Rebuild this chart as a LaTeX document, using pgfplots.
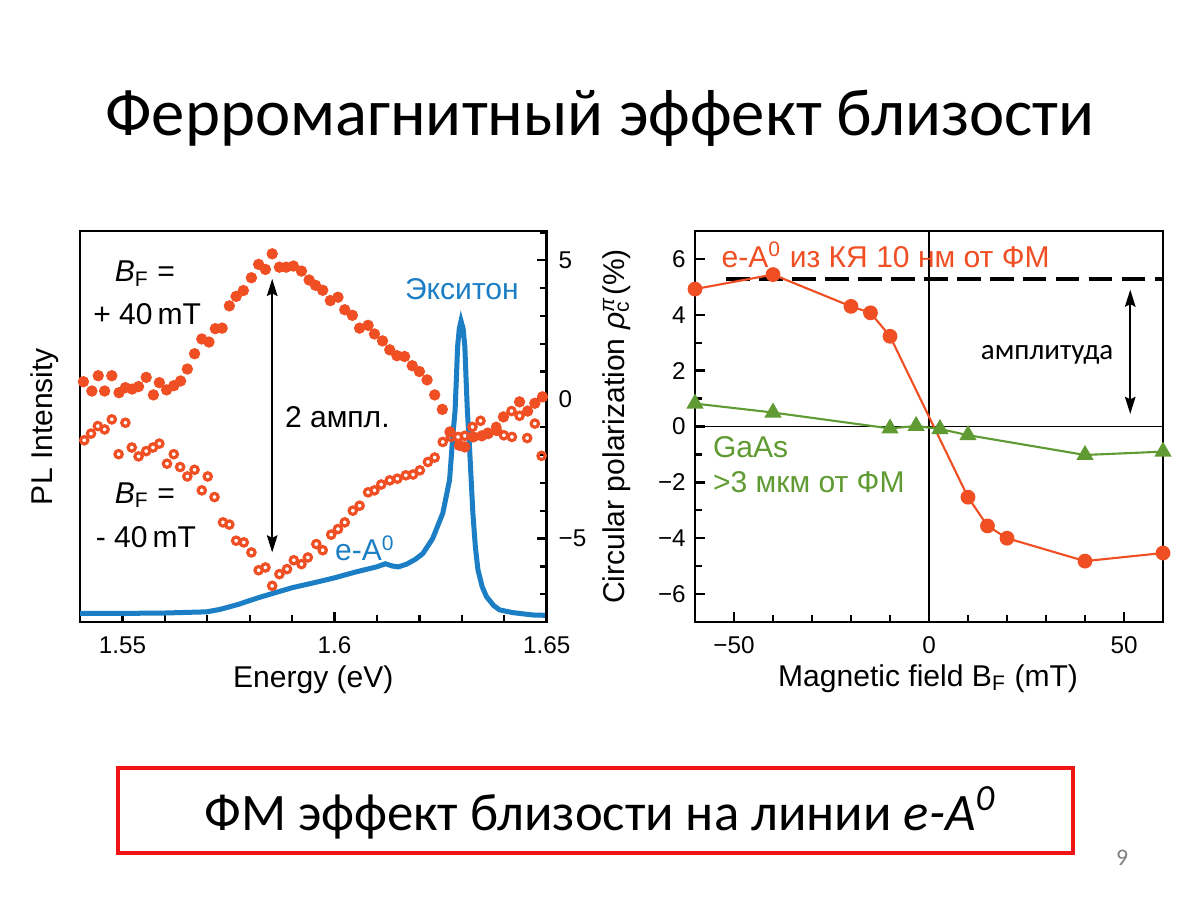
\documentclass[border=0pt]{standalone}
\usepackage{fontspec}
\setmainfont{Liberation Sans}
\newfontfamily\carlito{Carlito}
\usepackage{pgfplots}
\pgfplotsset{compat=1.18}
\usetikzlibrary{arrows.meta}
\definecolor{myred}{RGB}{240,78,35}
\definecolor{myblue}{RGB}{28,126,196}
\definecolor{mygreen}{RGB}{95,155,50}
\definecolor{boxred}{RGB}{240,20,20}

\pgfplotstableread{
E I
1.5399 0.022
1.5500 0.022
1.5600 0.023
1.5698 0.026
1.5729 0.032
1.5753 0.039
1.5776 0.046
1.5792 0.052
1.5823 0.063
1.5854 0.073
1.5901 0.088
1.5950 0.100
1.6000 0.113
1.6050 0.128
1.6099 0.141
1.6120 0.149
1.6137 0.143
1.6150 0.141
1.6170 0.148
1.6190 0.160
1.6208 0.175
1.6231 0.213
1.6255 0.278
1.6271 0.363
1.6279 0.480
1.6284 0.540
1.6287 0.620
1.6290 0.705
1.6294 0.750
1.6298 0.770
1.6303 0.750
1.6307 0.705
1.6310 0.620
1.6313 0.540
1.6318 0.448
1.6326 0.278
1.6332 0.190
1.6338 0.133
1.6348 0.090
1.6358 0.065
1.6375 0.042
1.6389 0.031
1.6420 0.024
1.6467 0.018
1.6500 0.017
}\pltable

\pgfplotstableread{
E P
1.5408 0.635
1.5428 0.30
1.5443 0.85
1.5458 0.30
1.5475 0.85
1.5492 0.24
1.5507 0.42
1.5523 0.37
1.5538 0.46
1.5556 0.79
1.5573 0.16
1.5587 0.60
1.5604 0.34
1.5621 0.49
1.5637 0.66
1.5653 1.09
1.5670 1.64
1.5687 2.17
1.5704 2.06
1.5719 2.54
1.5735 2.56
1.5752 3.36
1.5768 3.70
1.5785 3.91
1.5804 4.37
1.5821 4.85
1.5837 4.67
1.5853 5.23
1.5870 4.75
1.5886 4.75
1.5903 4.79
1.5922 4.61
1.5940 4.29
1.5955 4.10
1.5972 3.92
1.5990 3.55
1.6008 3.67
1.6024 3.22
1.6042 3.02
1.6059 2.56
1.6079 2.66
1.6094 2.35
1.6113 2.10
1.6130 1.78
1.6147 1.57
1.6165 1.54
1.6183 1.21
1.6200 1.00
1.6218 0.70
1.6236 0.16
1.6254 -0.36
1.6272 -1.17
1.6294 -1.65
1.6307 -1.71
1.6327 -1.35
1.6347 -1.31
1.6362 -1.23
1.6382 -1.12
1.6398 -0.63
1.6436 -0.09
1.6455 -0.42
1.6472 -0.14
1.6490 0.09
}\plustable

\pgfplotstableread{
E P
1.5410 -1.47
1.5426 -1.23
1.5442 -0.96
1.5458 -1.08
1.5475 -0.72
1.5491 -1.97
1.5507 -0.84
1.5522 -1.73
1.5538 -2.05
1.5556 -1.86
1.5572 -1.73
1.5587 -1.59
1.5605 -2.31
1.5621 -1.97
1.5636 -2.43
1.5653 -2.77
1.5670 -2.53
1.5687 -3.27
1.5701 -2.77
1.5717 -3.51
1.5737 -4.42
1.5752 -4.50
1.5768 -5.08
1.5786 -5.14
1.5804 -5.50
1.5821 -6.14
1.5837 -6.04
1.5853 -6.70
1.5870 -6.28
1.5888 -6.10
1.5904 -5.78
1.5922 -5.92
1.5937 -5.68
1.5957 -5.20
1.5972 -5.42
1.5992 -4.86
1.6008 -4.66
1.6024 -4.42
1.6043 -4.00
1.6059 -3.82
1.6079 -3.34
1.6094 -3.27
1.6110 -3.06
1.6130 -2.91
1.6148 -2.85
1.6168 -2.73
1.6185 -2.70
1.6201 -2.55
1.6220 -2.25
1.6236 -2.09
1.6255 -1.53
1.6274 -1.35
1.6291 -1.35
1.6307 -1.31
1.6325 -0.99
1.6344 -0.77
1.6361 -1.20
1.6381 -0.99
1.6399 -1.29
1.6417 -0.42
1.6418 -1.35
1.6436 -0.59
1.6454 -1.39
1.6472 -0.87
1.6488 -2.03
}\minustable

\begin{document}
\begin{tikzpicture}[x=1cm,y=1cm]
\path[use as bounding box, fill=white] (0,0) rectangle (16,12);

% title
\node[anchor=base, font=\carlito\fontsize{25.3}{30}\selectfont] at (8,10.187) {Ферромагнитный эффект близости};

% bottom box
\draw[boxred, line width=1.5pt] (1.573,0.627) rectangle (14.307,1.76);
\node[anchor=base, font=\carlito\fontsize{20}{24}\selectfont] at (8.0,0.933) {ФМ эффект близости на линии \textit{e-A\textsuperscript{0}}};
\node[font=\carlito\fontsize{9}{10}\selectfont, text=gray] at (14.96,0.56) {9};

\pgfplotsset{
  myaxis/.style={
    scale only axis, anchor=south west,
    tick align=inside,
    axis line style={line width=1pt},
    every tick/.style={black, line width=0.9pt},
    major tick length=0.133cm, minor tick length=0.095cm,
    tick label style={font=\fontsize{9.2}{11}\selectfont},
    label style={font=\fontsize{11.4}{13}\selectfont},
  }
}

% ---------------- left: PL intensity ----------------
\begin{axis}[myaxis,
  at={(1.0667cm,3.7067cm)}, width=6.2227cm, height=5.2133cm,
  xmin=1.54, xmax=1.65, ymin=0, ymax=1,
  xtick={1.55,1.6,1.65}, xticklabels={1.55,1.6,1.65},
  minor xtick={1.54,1.56,1.57,1.58,1.59,1.61,1.62,1.63,1.64},
  xtick pos=bottom, ytick=\empty,
  xticklabel style={yshift=-2pt},
  xlabel={Energy (eV)}, ylabel={PL Intensity},
  xlabel style={at={(axis description cs:0.5,-0.148)}, anchor=center},
  ylabel style={at={(axis description cs:-0.075,0.5)}, anchor=center},
]
\addplot[myblue, line width=1.9pt, no markers] table[x=E, y=I] {\pltable};
\end{axis}

\begin{axis}[myaxis,
  at={(1.0667cm,3.7067cm)}, width=6.2227cm, height=5.2133cm,
  xmin=1.54, xmax=1.65, ymin=-8, ymax=6.05,
  axis y line*=right, hide x axis,
  ytick={-5,0,5}, yticklabels={−5,0,5},
  minor ytick={-8,-7,-6,-4,-3,-2,-1,1,2,3,4,6},
  yticklabel style={xshift=1pt},
  clip=false,
]
\addplot[only marks, mark=*, mark size=1.95pt, myred, mark options={draw=myred, fill=myred}] table[x=E, y=P] {\plustable};
\addplot[only marks, mark=o, mark size=1.4pt, myred, mark options={draw=myred, line width=1.2pt, fill=white}] table[x=E, y=P] {\minustable};
\draw[{Stealth[length=6.5pt,width=4pt,inset=1pt]}-{Stealth[length=6.5pt,width=4pt,inset=1pt]}, line width=0.8pt] (axis cs:1.5853,-5.5) -- (axis cs:1.5853,4.33);
\node[anchor=base west, font=\fontsize{11.4}{13}\selectfont, inner sep=0pt] at (axis cs:1.5481,4.22) {\textit{B}\textsubscript{F} =};
\node[anchor=base west, font=\fontsize{11.4}{13}\selectfont, inner sep=0pt] at (axis cs:1.5430,2.68) {+ 40\,mT};
\node[anchor=base west, font=\fontsize{11.4}{13}\selectfont, inner sep=0pt] at (axis cs:1.5481,-3.73) {\textit{B}\textsubscript{F} =};
\node[anchor=base west, font=\fontsize{11.4}{13}\selectfont, inner sep=0pt] at (axis cs:1.5436,-5.32) {- 40\,mT};
\node[anchor=base west, font=\fontsize{11.4}{13}\selectfont, inner sep=0pt] at (axis cs:1.5882,-1.01) {2 ампл.};
\node[anchor=base west, font=\fontsize{11.4}{13}\selectfont, inner sep=0pt, text=myblue] at (axis cs:1.6165,3.58) {Экситон};
\node[anchor=base west, font=\fontsize{11.4}{13}\selectfont, inner sep=0pt, text=myblue] at (axis cs:1.6000,-5.8) {e-A\textsuperscript{0}};
\end{axis}

% ---------------- right: polarization ----------------
\begin{axis}[myaxis,
  at={(9.2667cm,3.7067cm)}, width=6.24cm, height=5.2133cm,
  xmin=-60, xmax=60, ymin=-7, ymax=7,
  xtick={-50,0,50}, xticklabels={−50,0,50},
  minor xtick={-40,-30,-20,-10,10,20,30,40},
  ytick={-6,-4,-2,0,2,4,6}, yticklabels={−6,−4,−2,0,2,4,6},
  minor ytick={-5,-3,-1,1,3,5},
  xtick pos=bottom, ytick pos=left,
  xticklabel style={yshift=-2pt},
  xlabel={Magnetic field B\textsubscript{F} (mT)},
  ylabel={Circular polarization \textit{ρ}\rlap{\textsuperscript{\textit{π}}}\textsubscript{c}\,(\%)},
  xlabel style={at={(axis description cs:0.498,-0.144)}, anchor=center},
  ylabel style={at={(axis description cs:-0.167,0.5)}, anchor=center},
  clip=false,
]
\draw[black, line width=0.75pt] (axis cs:0,-7) -- (axis cs:0,7);
\draw[black, line width=0.75pt] (axis cs:-60,0) -- (axis cs:60,0);
\addplot[black, line width=1.2pt, dash pattern=on 9pt off 3.5pt, no markers] coordinates {(-52,5.28) (60,5.28)};
\addplot[myred, line width=0.8pt, mark=*, mark size=2.4pt, mark options={fill=myred}] coordinates {
(-60,4.92) (-40,5.44) (-20,4.30) (-15,4.07) (-10,3.23) (10,-2.53) (15,-3.56) (20,-4.00) (40,-4.82) (60,-4.53)};
\addplot[mygreen, line width=0.8pt, mark=triangle*, mark size=3pt, mark options={fill=mygreen}] coordinates {
(-60,0.82) (-40,0.50) (-10,-0.07) (-3.3,0.02) (2.8,-0.09) (10,-0.31) (40,-1.02) (60,-0.90)};
\draw[{Stealth[length=6.5pt,width=4pt,inset=1pt]}-{Stealth[length=6.5pt,width=4pt,inset=1pt]}, line width=0.8pt] (axis cs:51.6,0.45) -- (axis cs:51.6,4.9);
\node[font=\carlito\fontsize{11}{13}\selectfont] at (axis cs:30.3,2.55) {амплитуда};
\node[anchor=west, font=\fontsize{11.4}{13}\selectfont, inner sep=0pt, text=myred] at (axis cs:-53.3,6.15) {e-A\textsuperscript{0} из КЯ 10 нм от ФМ};
\node[anchor=west, font=\fontsize{11.4}{13}\selectfont, inner sep=0pt, text=mygreen] at (axis cs:-55.5,-0.75) {GaAs};
\node[anchor=west, font=\fontsize{11.4}{13}\selectfont, inner sep=0pt, text=mygreen] at (axis cs:-55.5,-1.98) {>3 мкм от ФМ};
\end{axis}
\end{tikzpicture}
\end{document}
